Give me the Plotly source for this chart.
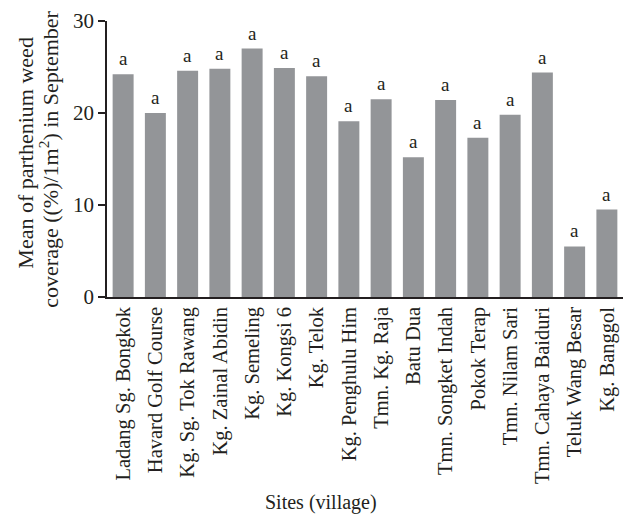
import plotly.graph_objects as go

sites = ["Ladang Sg. Bongkok", "Havard Golf Course", "Kg. Sg. Tok Rawang", "Kg. Zainal Abidin",
         "Kg. Semeling", "Kg. Kongsi 6", "Kg. Telok", "Kg. Penghulu Him", "Tmn. Kg. Raja",
         "Batu Dua", "Tmn. Songket Indah", "Pokok Terap", "Tmn. Nilam Sari",
         "Tmn. Cahaya Baiduri", "Teluk Wang Besar", "Kg. Banggol"]
coverage = [24.2, 20.0, 24.6, 24.8, 27.0, 24.9, 24.0, 19.1, 21.5, 15.2, 21.4, 17.3, 19.8, 24.4, 5.5, 9.5]
letters = ["a"] * len(sites)
y_title_lines = ["Mean of parthenium weed", "coverage ((%)/1m<sup>2</sup>) in September"]
x_title = "Sites (village)"

FONT = "Liberation Serif"
INK = "#231f20"

fig = go.Figure()
fig.add_trace(go.Bar(x=sites, y=coverage, marker=dict(color="#939598", line=dict(width=0)),
                     width=0.65))

for s, v, t in zip(sites, coverage, letters):
    fig.add_annotation(x=s, y=v, text=t, showarrow=False, yanchor="bottom", yshift=3,
                       font=dict(family=FONT, size=19, color=INK))

# x-axis title
fig.add_annotation(xref="paper", yref="paper", x=0.415, y=-0.745, text=x_title,
                   showarrow=False, yanchor="middle", font=dict(family=FONT, size=20, color=INK))

# y-axis title, two lines
for (xp, yp), line in zip([(-0.157, 0.523), (-0.114, 0.498)], y_title_lines):
    fig.add_annotation(xref="paper", yref="paper", x=xp, y=yp, text=line, textangle=-90,
                       showarrow=False, xanchor="center", yanchor="middle",
                       font=dict(family=FONT, size=22, color=INK))

fig.update_layout(
    width=632, height=519,
    margin=dict(l=107, r=9, t=18, b=222),
    paper_bgcolor="white", plot_bgcolor="white",
    showlegend=False,
    font=dict(family=FONT, color=INK),
    xaxis=dict(tickangle=-90, tickfont=dict(family=FONT, size=20.5, color=INK),
               showline=True, linecolor=INK, linewidth=1.5, ticks="", showgrid=False),
    yaxis=dict(range=[0, 30], tickvals=[0, 10, 20, 30], tickfont=dict(family=FONT, size=21, color=INK),
               showline=True, linecolor=INK, linewidth=1.5, ticks="outside", ticklen=7,
               tickcolor=INK, tickwidth=1.5, showgrid=False, zeroline=False),
)

fig.write_html("out.html")
